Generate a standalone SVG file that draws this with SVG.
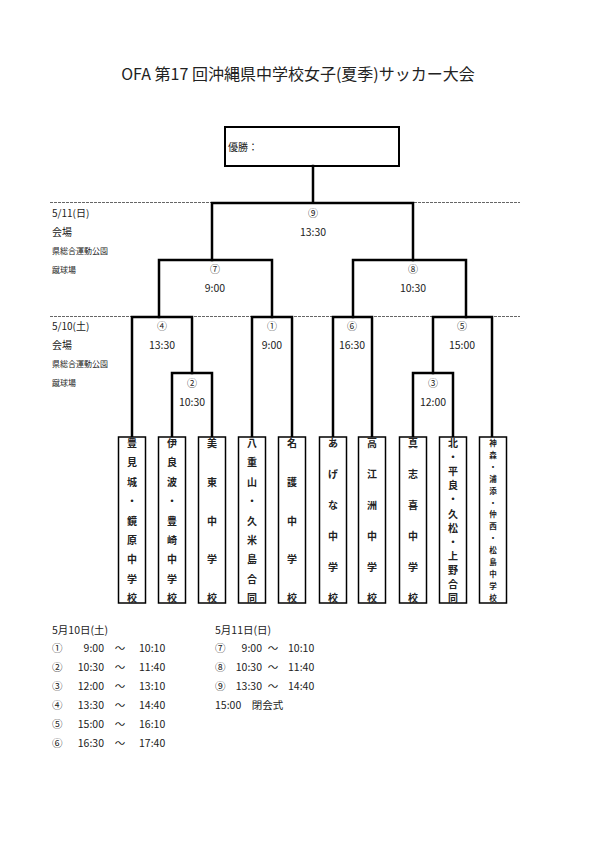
<svg xmlns="http://www.w3.org/2000/svg" width="595" height="841" viewBox="0 0 595 841">
<style>
text{font-family:"Noto Sans CJK JP","Noto Sans",sans-serif;fill:#222}
.t{font-size:16px}
.lb{font-size:10px}
.sm{font-size:8px}
.c{font-size:10px;text-anchor:middle}
.tm{font-size:10.5px;text-anchor:middle}
.nm{font-size:10px;font-weight:bold;text-anchor:middle}
.nm2{font-size:7.5px;font-weight:bold;text-anchor:middle}
.sc{font-size:10.5px}
.br{stroke:#000;stroke-width:2.5;fill:none;stroke-linecap:square}
.dash{stroke:#666;stroke-width:1;stroke-dasharray:3 1}
.box{fill:#fff;stroke:#000;stroke-width:1.5}
</style>
<rect width="595" height="841" fill="#fff"/>
<text class="t" x="298" y="80" text-anchor="middle">OFA 第17 回沖縄県中学校女子(夏季)サッカー大会</text>

<g id="winner">
<rect class="box" x="225" y="127" width="174" height="39" style="stroke-width:2"/>
<text class="lb" x="228" y="151">優勝：</text>
</g>

<g id="dates">
<line class="dash" x1="50" y1="202.5" x2="520" y2="202.5"/>
<line class="dash" x1="50" y1="316.5" x2="520" y2="316.5"/>
<text class="lb" x="52" y="217">5/11(日)</text>
<text class="lb" x="52" y="236">会場</text>
<text class="sm" x="52" y="254">県総合運動公園</text>
<text class="sm" x="52" y="273">蹴球場</text>
<text class="lb" x="52" y="330">5/10(土)</text>
<text class="lb" x="52" y="349">会場</text>
<text class="sm" x="52" y="367">県総合運動公園</text>
<text class="sm" x="52" y="386">蹴球場</text>
</g>

<g id="connectors">
<path class="br" d="M313 166V203M212 260V203H413V260"/>
<path class="br" d="M159 317V260H272V317"/>
<path class="br" d="M353 317V260H466V317"/>
<path class="br" d="M132 437V317H192V373"/>
<path class="br" d="M252 437V317H292V437"/>
<path class="br" d="M333 437V317H372V437"/>
<path class="br" d="M433 373V317H492V437"/>
<path class="br" d="M172 437V373H212V437"/>
<path class="br" d="M413 437V373H453V437"/>
</g>

<g id="match-labels">
<text class="c" x="313" y="217">⑨</text><text class="tm" x="313" y="236">13:30</text>
<text class="c" x="215" y="273">⑦</text><text class="tm" x="215" y="292">9:00</text>
<text class="c" x="413" y="273">⑧</text><text class="tm" x="413" y="292">10:30</text>
<text class="c" x="162" y="330">④</text><text class="tm" x="162" y="349">13:30</text>
<text class="c" x="272" y="330">①</text><text class="tm" x="272" y="349">9:00</text>
<text class="c" x="352" y="330">⑥</text><text class="tm" x="352" y="349">16:30</text>
<text class="c" x="462" y="330">⑤</text><text class="tm" x="462" y="349">15:00</text>
<text class="c" x="192" y="387">②</text><text class="tm" x="192" y="406">10:30</text>
<text class="c" x="433" y="387">③</text><text class="tm" x="433" y="406">12:00</text>
</g>

<g id="team1"><rect class="box" x="118.5" y="437" width="27" height="166"/>
<text class="nm" x="132" y="447"><tspan x="132" dy="0">豊</tspan><tspan x="132" dy="19.4">見</tspan><tspan x="132" dy="19.4">城</tspan><tspan x="132" dy="19.4">・</tspan><tspan x="132" dy="19.4">鏡</tspan><tspan x="132" dy="19.4">原</tspan><tspan x="132" dy="19.4">中</tspan><tspan x="132" dy="19.4">学</tspan><tspan x="132" dy="19.4">校</tspan></text></g>
<g id="team2"><rect class="box" x="158.5" y="437" width="27" height="166"/>
<text class="nm" x="172" y="447"><tspan x="172" dy="0">伊</tspan><tspan x="172" dy="19.4">良</tspan><tspan x="172" dy="19.4">波</tspan><tspan x="172" dy="19.4">・</tspan><tspan x="172" dy="19.4">豊</tspan><tspan x="172" dy="19.4">崎</tspan><tspan x="172" dy="19.4">中</tspan><tspan x="172" dy="19.4">学</tspan><tspan x="172" dy="19.4">校</tspan></text></g>
<g id="team3"><rect class="box" x="198.5" y="437" width="27" height="166"/>
<text class="nm" x="212" y="447"><tspan x="212" dy="0">美</tspan><tspan x="212" dy="38.8">東</tspan><tspan x="212" dy="38.8">中</tspan><tspan x="212" dy="38.8">学</tspan><tspan x="212" dy="38.8">校</tspan></text></g>
<g id="team4"><rect class="box" x="238.5" y="437" width="27" height="166"/>
<text class="nm" x="252" y="447"><tspan x="252" dy="0">八</tspan><tspan x="252" dy="19.4">重</tspan><tspan x="252" dy="19.4">山</tspan><tspan x="252" dy="19.4">・</tspan><tspan x="252" dy="19.4">久</tspan><tspan x="252" dy="19.4">米</tspan><tspan x="252" dy="19.4">島</tspan><tspan x="252" dy="19.4">合</tspan><tspan x="252" dy="19.4">同</tspan></text></g>
<g id="team5"><rect class="box" x="278.5" y="437" width="27" height="166"/>
<text class="nm" x="292" y="447"><tspan x="292" dy="0">名</tspan><tspan x="292" dy="38.8">護</tspan><tspan x="292" dy="38.8">中</tspan><tspan x="292" dy="38.8">学</tspan><tspan x="292" dy="38.8">校</tspan></text></g>
<g id="team6"><rect class="box" x="319.5" y="437" width="27" height="166"/>
<text class="nm" x="333" y="447"><tspan x="333" dy="0">あ</tspan><tspan x="333" dy="31">げ</tspan><tspan x="333" dy="31">な</tspan><tspan x="333" dy="31">中</tspan><tspan x="333" dy="31">学</tspan><tspan x="333" dy="31">校</tspan></text></g>
<g id="team7"><rect class="box" x="358.5" y="437" width="27" height="166"/>
<text class="nm" x="372" y="447"><tspan x="372" dy="0">高</tspan><tspan x="372" dy="31">江</tspan><tspan x="372" dy="31">洲</tspan><tspan x="372" dy="31">中</tspan><tspan x="372" dy="31">学</tspan><tspan x="372" dy="31">校</tspan></text></g>
<g id="team8"><rect class="box" x="399.5" y="437" width="27" height="166"/>
<text class="nm" x="413" y="447"><tspan x="413" dy="0">真</tspan><tspan x="413" dy="31">志</tspan><tspan x="413" dy="31">喜</tspan><tspan x="413" dy="31">中</tspan><tspan x="413" dy="31">学</tspan><tspan x="413" dy="31">校</tspan></text></g>
<g id="team9"><rect class="box" x="439.5" y="437" width="27" height="166"/>
<text class="nm" x="453" y="447"><tspan x="453" dy="0">北</tspan><tspan x="453" dy="14.1">・</tspan><tspan x="453" dy="14.1">平</tspan><tspan x="453" dy="14.1">良</tspan><tspan x="453" dy="14.1">・</tspan><tspan x="453" dy="14.1">久</tspan><tspan x="453" dy="14.1">松</tspan><tspan x="453" dy="14.1">・</tspan><tspan x="453" dy="14.1">上</tspan><tspan x="453" dy="14.1">野</tspan><tspan x="453" dy="14.1">合</tspan><tspan x="453" dy="14.1">同</tspan></text></g>
<g id="team10"><rect class="box" x="479.5" y="437" width="27" height="166"/>
<text class="nm2" x="493" y="446"><tspan x="493" dy="0">神</tspan><tspan x="493" dy="11.9">森</tspan><tspan x="493" dy="11.9">・</tspan><tspan x="493" dy="11.9">浦</tspan><tspan x="493" dy="11.9">添</tspan><tspan x="493" dy="11.9">・</tspan><tspan x="493" dy="11.9">仲</tspan><tspan x="493" dy="11.9">西</tspan><tspan x="493" dy="11.9">・</tspan><tspan x="493" dy="11.9">松</tspan><tspan x="493" dy="11.9">島</tspan><tspan x="493" dy="11.9">中</tspan><tspan x="493" dy="11.9">学</tspan><tspan x="493" dy="11.9">校</tspan></text></g>

<g id="schedule-day1">
<text class="sc" x="52" y="634">5月10日(土)</text>
<text class="sc" x="52" y="652">①</text><text class="sc" x="104" y="652" text-anchor="end">9:00</text><text class="sc" x="120" y="652" text-anchor="middle">～</text><text class="sc" x="139" y="652">10:10</text>
<text class="sc" x="52" y="671">②</text><text class="sc" x="104" y="671" text-anchor="end">10:30</text><text class="sc" x="120" y="671" text-anchor="middle">～</text><text class="sc" x="139" y="671">11:40</text>
<text class="sc" x="52" y="690">③</text><text class="sc" x="104" y="690" text-anchor="end">12:00</text><text class="sc" x="120" y="690" text-anchor="middle">～</text><text class="sc" x="139" y="690">13:10</text>
<text class="sc" x="52" y="709">④</text><text class="sc" x="104" y="709" text-anchor="end">13:30</text><text class="sc" x="120" y="709" text-anchor="middle">～</text><text class="sc" x="139" y="709">14:40</text>
<text class="sc" x="52" y="728">⑤</text><text class="sc" x="104" y="728" text-anchor="end">15:00</text><text class="sc" x="120" y="728" text-anchor="middle">～</text><text class="sc" x="139" y="728">16:10</text>
<text class="sc" x="52" y="747">⑥</text><text class="sc" x="104" y="747" text-anchor="end">16:30</text><text class="sc" x="120" y="747" text-anchor="middle">～</text><text class="sc" x="139" y="747">17:40</text>
</g>
<g id="schedule-day2">
<text class="sc" x="215" y="634">5月11日(日)</text>
<text class="sc" x="215" y="652">⑦</text><text class="sc" x="262" y="652" text-anchor="end">9:00</text><text class="sc" x="273" y="652" text-anchor="middle">～</text><text class="sc" x="288" y="652">10:10</text>
<text class="sc" x="215" y="671">⑧</text><text class="sc" x="262" y="671" text-anchor="end">10:30</text><text class="sc" x="273" y="671" text-anchor="middle">～</text><text class="sc" x="288" y="671">11:40</text>
<text class="sc" x="215" y="690">⑨</text><text class="sc" x="262" y="690" text-anchor="end">13:30</text><text class="sc" x="273" y="690" text-anchor="middle">～</text><text class="sc" x="288" y="690">14:40</text>
<text class="sc" x="215" y="709">15:00　閉会式</text>
</g>
</svg>
